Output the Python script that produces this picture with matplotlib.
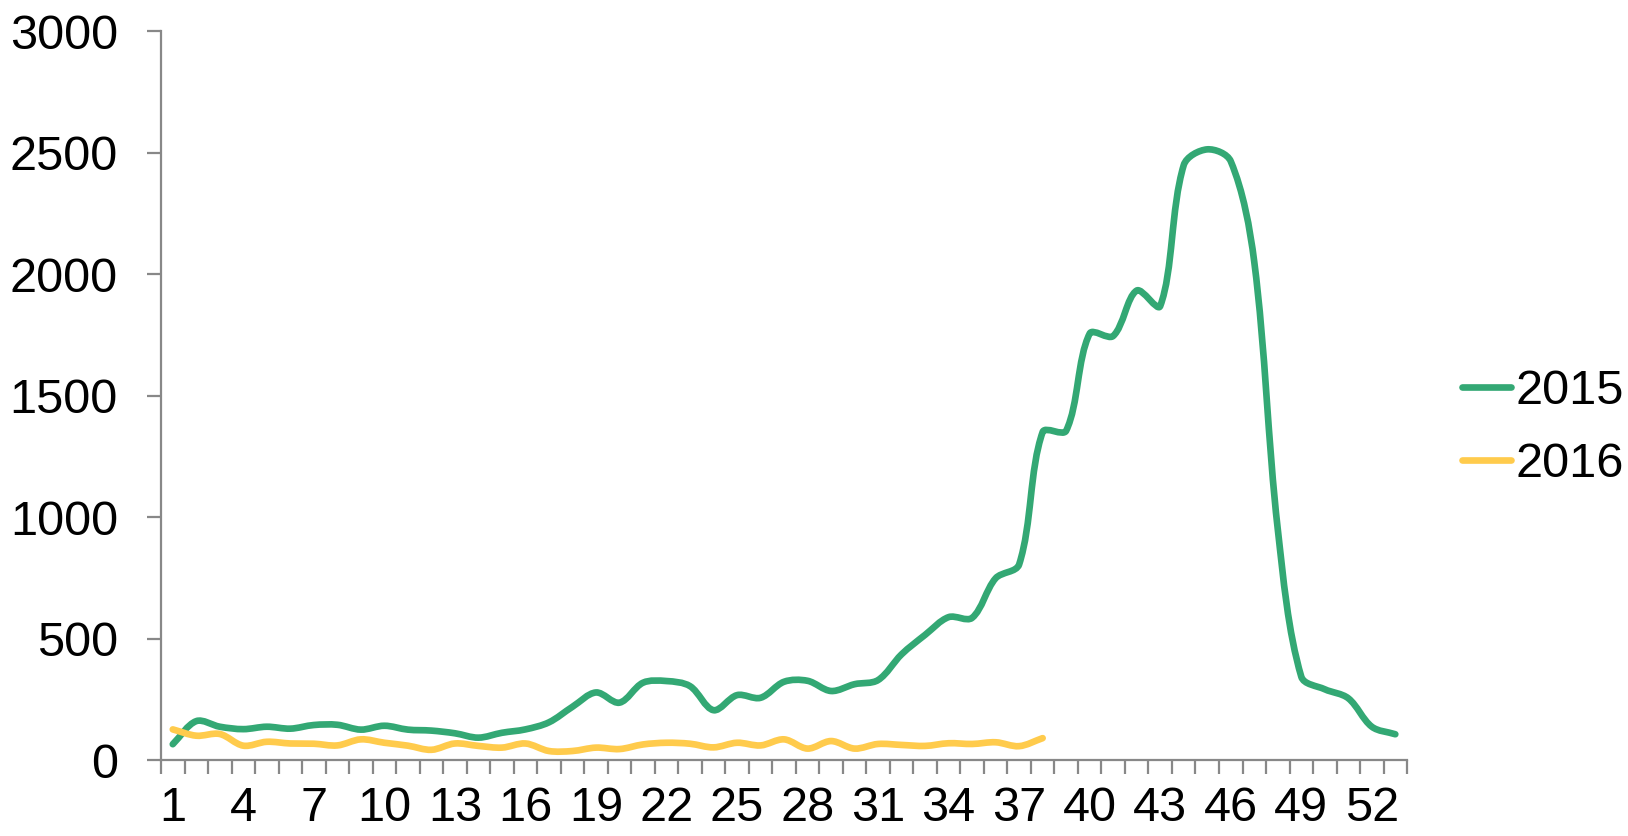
import matplotlib
matplotlib.use("Agg")
import matplotlib.pyplot as plt
import numpy as np
from matplotlib.path import Path
from matplotlib.patches import PathPatch
from matplotlib.lines import Line2D

plt.rcParams['font.family'] = ['Liberation Sans', 'DejaVu Sans']

weeks = list(range(1, 54))
tick_labels = [str(w) for w in range(1, 54, 3)]

cases_2015 = [65, 160, 137, 127, 137, 129, 144, 145, 125, 141, 125, 121, 110, 92, 112,
              126, 155, 219, 278, 236, 318, 325, 304, 205, 267, 256, 322, 326, 284, 312,
              329, 435, 515, 588, 585, 748, 805, 1350, 1355, 1755, 1745, 1932, 1868, 2448,
              2513, 2464, 2050, 950, 343, 291, 254, 137, 106]
cases_2016 = [126, 100, 107, 59, 75, 68, 67, 60, 85, 71, 59, 42, 68, 58, 51, 68, 37, 37,
              51, 45, 64, 71, 67, 52, 71, 60, 85, 47, 78, 47, 66, 62, 58, 69, 66, 73, 57, 90]

green = '#33a874'
yellow = '#ffcb4c'


def smooth_path(ax, x, y):
    # excel-like smoothed line, control points worked out in screen space
    data_pts = np.column_stack([np.asarray(x, float), np.asarray(y, float)])
    pts = ax.transData.transform(data_pts)
    n = len(pts)
    verts = [pts[0]]
    codes = [Path.MOVETO]
    for i in range(n - 1):
        p0 = pts[i - 1] if i > 0 else pts[i]
        p1 = pts[i]
        p2 = pts[i + 1]
        p3 = pts[i + 2] if i + 2 < n else pts[i + 1]
        d01 = np.hypot(*(p1 - p0))
        d12 = np.hypot(*(p2 - p1))
        d23 = np.hypot(*(p3 - p2))
        f1 = d12 / (d01 + d12) / 3 if d01 + d12 > 0 else 0
        f2 = d12 / (d12 + d23) / 3 if d12 + d23 > 0 else 0
        c1 = p1 + (p2 - p0) * f1
        c2 = p2 - (p3 - p1) * f2
        verts += [c1, c2, p2]
        codes += [Path.CURVE4] * 3
    verts = ax.transData.inverted().transform(np.array(verts))
    return Path(verts, codes)


fig = plt.figure(figsize=(16.28, 8.36), dpi=100)
ax = fig.add_axes([0.0989, 0.0909, 0.7654, 0.872])
ax.set_xlim(0.5, 53.5)
ax.set_ylim(0, 3000)

for data, col in [(cases_2015, green), (cases_2016, yellow)]:
    p = smooth_path(ax, weeks[:len(data)], data)
    ax.add_patch(PathPatch(p, fill=False, edgecolor=col, lw=4.8,
                           capstyle='round', joinstyle='round'))

for s in ['top', 'right']:
    ax.spines[s].set_visible(False)
for s in ['left', 'bottom']:
    ax.spines[s].set_color('#888888')
    ax.spines[s].set_linewidth(1.6)

ax.set_yticks(range(0, 3001, 500))
ax.tick_params(axis='y', length=10, width=1.6, color='#888888',
               labelsize=35, pad=21)

ax.set_xticks(np.arange(0.5, 54, 1))
ax.set_xticklabels([])
ax.set_xticks(range(1, 54, 3), minor=True)
ax.set_xticklabels(tick_labels, minor=True)
ax.tick_params(axis='x', which='major', length=10, width=1.6, color='#888888')
ax.tick_params(axis='x', which='minor', length=0, labelsize=35, pad=19)

handles = [Line2D([], [], color=green, lw=4.8, solid_capstyle='round'),
           Line2D([], [], color=yellow, lw=4.8, solid_capstyle='round')]
fig.legend(handles, ['2015', '2016'], loc='center left',
           bbox_to_anchor=(0.898, 0.488), frameon=False, fontsize=35,
           handlelength=1.0, handletextpad=0.1, labelspacing=0.59,
           borderpad=0, borderaxespad=0)

fig.savefig('out.png', dpi=100)
